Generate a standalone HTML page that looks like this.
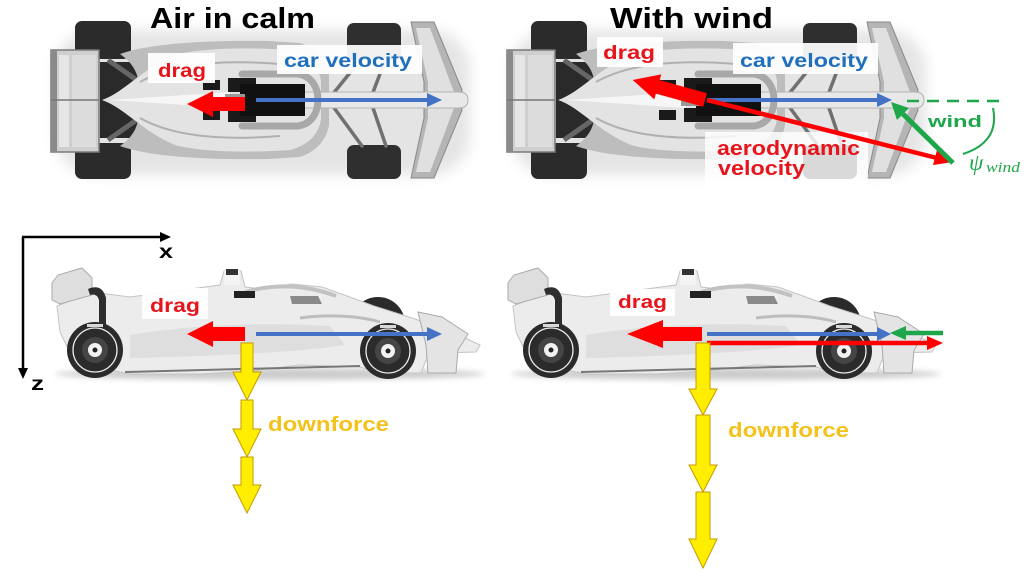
<!DOCTYPE html>
<html><head><meta charset="utf-8"><style>
html,body{margin:0;padding:0;background:#fff;}
svg{display:block}
</style></head><body>
<svg width="1024" height="572" viewBox="0 0 1024 572" xmlns="http://www.w3.org/2000/svg" xmlns:xlink="http://www.w3.org/1999/xlink" font-family="'Liberation Sans', sans-serif">
<defs>
<filter id="bl" x="-20%" y="-30%" width="140%" height="160%"><feGaussianBlur stdDeviation="7"/></filter>
<filter id="bl2" x="-20%" y="-200%" width="140%" height="500%"><feGaussianBlur stdDeviation="3"/></filter>

<g id="wheel">
<circle r="28" fill="#2b2b2b"/>
<circle r="22" fill="none" stroke="#e6e6e6" stroke-width="1.3"/>
<circle r="13" fill="#454545"/>
<circle r="7" fill="#f2f2f2"/>
<circle r="2.5" fill="#222"/>
<rect x="-8" y="-26" width="16" height="3" fill="#d8d8d8"/>
</g>

<g id="topcar">
<rect x="55" y="30" width="415" height="145" rx="40" fill="#000" opacity="0.10" filter="url(#bl)"/>
<rect x="75" y="21" width="56" height="38" rx="7" fill="#2b2b2b"/>
<rect x="75" y="143" width="56" height="36" rx="7" fill="#2b2b2b"/>
<rect x="347" y="23" width="54" height="37" rx="7" fill="#2f2f2f"/>
<rect x="347" y="145" width="54" height="34" rx="7" fill="#2f2f2f"/>
<g stroke="#707070" stroke-width="3.5" stroke-linecap="round">
<line x1="362" y1="58" x2="332" y2="95"/>
<line x1="386" y1="58" x2="372" y2="95"/>
<line x1="362" y1="146" x2="332" y2="105"/>
<line x1="386" y1="146" x2="372" y2="105"/>
</g>
<path d="M100 62 L140 62 L148 138 L100 138 Z" fill="#2a2a2a"/>
<g stroke="#666" stroke-width="5">
<line x1="108" y1="60" x2="148" y2="88"/>
<line x1="108" y1="140" x2="148" y2="112"/>
</g>
<path d="M120 54 C150 43 210 40 268 41 L300 43 C318 49 327 62 329 75 L329 125 C327 138 318 151 300 157 L268 159 C210 160 150 157 120 146 C135 135 140 125 140 100 C140 75 135 65 120 54 Z" fill="#bdbdbd"/>
<path d="M102 100 C125 92 140 70 175 55 C200 48 250 47 290 50 C310 55 320 68 321 82 L321 118 C320 132 310 145 290 150 C250 153 200 152 175 145 C140 130 125 108 102 100 Z" fill="#e3e3e3"/>
<path d="M140 82 C175 62 230 60 280 64" stroke="#b0b0b0" stroke-width="2" fill="none"/>
<path d="M140 118 C175 138 230 140 280 136" stroke="#b0b0b0" stroke-width="2" fill="none"/>
<path d="M110 100 L230 92 L230 108 Z" fill="#f6f6f6"/>
<polygon points="411,22 434,22 462,90 462,110 434,178 411,178 424,118 424,82" fill="#b5b5b5" stroke="#888"/>
<polygon points="416,28 430,28 454,92 454,108 430,172 416,172 428,118 428,82" fill="#e0e0e0"/>
<path d="M300 92 L458 92 C466 92 468 96 468 100 C468 104 466 108 458 108 L300 108 Z" fill="#e8e8e8" stroke="#b5b5b5" stroke-width="1"/>
<rect x="203" y="80" width="17" height="10" fill="#1a1a1a"/>
<rect x="203" y="110" width="17" height="10" fill="#1a1a1a"/>
<rect x="228" y="78" width="28" height="14" fill="#1a1a1a"/>
<rect x="228" y="108" width="28" height="14" fill="#1a1a1a"/>
<rect x="240" y="84" width="65" height="32" fill="#111"/>
<rect x="225" y="94" width="20" height="12" fill="#9a9a9a"/>
<path d="M242 74 L298 74 C312 76 318 88 318 100 C318 112 312 124 298 126 L242 126" stroke="#a8a8a8" stroke-width="7" fill="none" stroke-linecap="round"/>
<rect x="51" y="50" width="48" height="102" fill="#cfcfcf" stroke="#7a7a7a" stroke-width="1.5"/>
<rect x="51" y="50" width="6" height="102" fill="#8a8a8a"/>
<rect x="59" y="55" width="10" height="92" fill="#e6e6e6"/>
<rect x="72" y="55" width="24" height="92" fill="#dcdcdc"/>
<line x1="51" y1="100" x2="99" y2="100" stroke="#777" stroke-width="1.5"/>
</g>

<g id="sidecar">
<ellipse cx="270" cy="374" rx="215" ry="6" fill="#000" opacity="0.2" filter="url(#bl2)"/>
<circle cx="112" cy="322" r="26" fill="#2a2a2a"/>
<circle cx="378" cy="324" r="27" fill="#2a2a2a"/>
<path d="M60 332 L57 306 L92 292 L130 297 L175 291 L220 285 L224 271 L241 271 L245 287 L262 289 L292 284 L322 287 L347 296 L374 306 L412 318 L450 331 L480 345 L476 352 L440 353 L426 360 L421 373 L380 373 L360 367 L300 365 L250 371 L200 374 L130 374 L75 363 Z" fill="#ececec" stroke="#c4c4c4" stroke-width="1"/>
<path d="M130 335 C190 325 260 322 330 326 L345 345 C300 352 220 356 130 358 Z" fill="#dedede"/>
<path d="M300 318 C330 314 360 316 380 322" stroke="#bdbdbd" stroke-width="3" fill="none"/>
<path d="M125 372 L360 366" stroke="#777" stroke-width="2"/>
<path d="M245 292 Q290 279 336 296" stroke="#c2c2c2" stroke-width="4" fill="none"/>
<rect x="234" y="291" width="21" height="7" fill="#222"/>
<path d="M290 296 L318 296 L322 304 L292 304 Z" fill="#8a8a8a"/>
<rect x="224" y="271" width="16" height="14" fill="#f4f4f4"/>
<rect x="226" y="269" width="12" height="6" fill="#333"/>
<polygon points="52,283 58,275 82,268 92,278 92,295 60,304 52,300" fill="#dedede" stroke="#aaa"/>
<path d="M88 289 Q102 283 106 298 L106 338 L99 338 L99 300 Q97 293 90 295 Z" fill="#2e2e2e"/>
<polygon points="418,312 442,317 468,334 458,350 456,373 428,373 426,345" fill="#e4e4e4" stroke="#aaa"/>
<use xlink:href="#wheel" href="#wheel" transform="translate(95,350)"/>
<use xlink:href="#wheel" href="#wheel" transform="translate(388,351)"/>
</g>
</defs>

<rect width="1024" height="572" fill="#fff"/>
<use xlink:href="#topcar" href="#topcar"/>
<use xlink:href="#topcar" href="#topcar" transform="translate(456,0)"/>
<use xlink:href="#sidecar" href="#sidecar"/>
<use xlink:href="#sidecar" href="#sidecar" transform="translate(456,0)"/>

<!-- Titles -->
<text x="150" y="28" font-size="29" font-weight="bold" fill="#000" textLength="165" lengthAdjust="spacingAndGlyphs">Air in calm</text>
<text x="610" y="28" font-size="29" font-weight="bold" fill="#000" textLength="163" lengthAdjust="spacingAndGlyphs">With wind</text>

<!-- Top-left labels -->
<rect x="148" y="53" width="67" height="30" fill="#fff" opacity="0.93"/>
<text x="158" y="77" font-size="19" font-weight="bold" fill="#e8141b" textLength="48" lengthAdjust="spacingAndGlyphs">drag</text>
<rect x="277" y="45" width="145" height="29" fill="#fff" opacity="0.93"/>
<text x="284" y="67" font-size="19" font-weight="bold" fill="#1e6fbe" textLength="128" lengthAdjust="spacingAndGlyphs">car velocity</text>

<!-- Top-left arrows -->
<path d="M187 104 L213 91 L213 97 L245 97 L245 111 L213 111 L213 117 Z" fill="#ff0000"/>
<line x1="256" y1="100" x2="429" y2="100" stroke="#4472c4" stroke-width="4"/>
<polygon points="427,93 442,100 427,107" fill="#4472c4"/>

<!-- Top-right labels -->
<rect x="597" y="37" width="66" height="30" fill="#fff" opacity="0.93"/>
<text x="603" y="59" font-size="19" font-weight="bold" fill="#e8141b" textLength="52" lengthAdjust="spacingAndGlyphs">drag</text>
<rect x="733" y="43" width="145" height="31" fill="#fff" opacity="0.93"/>
<text x="740" y="67" font-size="19" font-weight="bold" fill="#1e6fbe" textLength="128" lengthAdjust="spacingAndGlyphs">car velocity</text>
<rect x="705" y="132" width="163" height="55" fill="#fff" opacity="0.82"/>
<text x="717" y="155" font-size="20" font-weight="bold" fill="#e8141b" textLength="143" lengthAdjust="spacingAndGlyphs">aerodynamic</text>
<text x="718" y="175" font-size="20" font-weight="bold" fill="#e8141b" textLength="87" lengthAdjust="spacingAndGlyphs">velocity</text>

<!-- Top-right arrows -->
<line x1="707" y1="100" x2="879" y2="100" stroke="#4472c4" stroke-width="4"/>
<polygon points="877,93 892,100 877,107" fill="#4472c4"/>
<path d="M630 100 L656 87 L656 93 L705 93 L705 107 L656 107 L656 113 Z" fill="#ff0000" transform="rotate(15.5 705 100)"/>
<line x1="707" y1="100" x2="937" y2="158" stroke="#ff0000" stroke-width="4.5"/>
<polygon points="933,165 953,162 937,150" fill="#ff0000"/>
<line x1="907" y1="101" x2="1000" y2="101" stroke="#1ea64a" stroke-width="2.5" stroke-dasharray="12 8"/>
<line x1="953" y1="163" x2="903" y2="114" stroke="#1ea64a" stroke-width="5"/>
<polygon points="909,108 891,102 897,120" fill="#1ea64a"/>
<path d="M993 108 Q1000 142 963 154" stroke="#1ea64a" stroke-width="2" fill="none"/>
<text x="928" y="127" font-size="17" font-weight="bold" fill="#1ea64a" textLength="54" lengthAdjust="spacingAndGlyphs">wind</text>
<text x="969" y="170" font-size="23" font-style="italic" font-family="'Liberation Serif', serif" fill="#1ea64a">ψ</text>
<text x="986" y="172" font-size="15" font-style="italic" font-family="'Liberation Serif', serif" fill="#1ea64a" textLength="34" lengthAdjust="spacingAndGlyphs">wind</text>

<!-- Axes -->
<line x1="23" y1="237" x2="23" y2="370" stroke="#000" stroke-width="2.5"/>
<polygon points="18,368 23,379 28,368" fill="#000"/>
<line x1="22" y1="237" x2="162" y2="237" stroke="#000" stroke-width="2.5"/>
<polygon points="160,232 171,237 160,242" fill="#000"/>
<text x="159" y="258" font-size="19" font-weight="bold" fill="#000" textLength="14" lengthAdjust="spacingAndGlyphs">x</text>
<text x="31" y="390" font-size="19" font-weight="bold" fill="#000" textLength="13" lengthAdjust="spacingAndGlyphs">z</text>

<!-- Side-left labels & arrows -->
<rect x="142" y="288" width="66" height="31" fill="#fff" opacity="0.93"/>
<text x="150" y="312" font-size="19" font-weight="bold" fill="#e8141b" textLength="50" lengthAdjust="spacingAndGlyphs">drag</text>
<path d="M187 334 L213 321 L213 327 L245 327 L245 341 L213 341 L213 347 Z" fill="#ff0000"/>
<line x1="256" y1="334" x2="429" y2="334" stroke="#4472c4" stroke-width="4"/>
<polygon points="427,327 442,334 427,341" fill="#4472c4"/>

<!-- Side-right labels & arrows -->
<rect x="610" y="289" width="65" height="27" fill="#fff" opacity="0.93"/>
<text x="618" y="308" font-size="18" font-weight="bold" fill="#e8141b" textLength="49" lengthAdjust="spacingAndGlyphs">drag</text>
<path d="M627 334 L663 320 L663 327 L702 327 L702 341 L663 341 L663 348 Z" fill="#ff0000"/>
<line x1="707" y1="334" x2="879" y2="334" stroke="#4472c4" stroke-width="4"/>
<polygon points="877,327 891,334 877,341" fill="#4472c4"/>
<line x1="943" y1="333" x2="904" y2="333" stroke="#1ea64a" stroke-width="4.5"/>
<polygon points="906,326 890,333 906,340" fill="#1ea64a"/>
<line x1="707" y1="343" x2="929" y2="343" stroke="#ff0000" stroke-width="4.5"/>
<polygon points="927,336 943,343 927,350" fill="#ff0000"/>

<!-- Downforce arrows left -->
<g fill="#ffee00" stroke="#c69a00" stroke-width="1">
<path d="M241 343 L253 343 L253 372 L261 372 L247 400 L233 372 L241 372 Z"/>
<path d="M241 400 L253 400 L253 429 L261 429 L247 457 L233 429 L241 429 Z"/>
<path d="M241 457 L253 457 L253 485 L261 485 L247 513 L233 485 L241 485 Z"/>
</g>
<text x="268" y="431" font-size="20" font-weight="bold" fill="#f4c21a" textLength="121" lengthAdjust="spacingAndGlyphs">downforce</text>

<!-- Downforce arrows right -->
<g fill="#ffee00" stroke="#c69a00" stroke-width="1">
<path d="M696 343 L710 343 L710 389 L717 389 L703 415 L689 389 L696 389 Z"/>
<path d="M696 415 L710 415 L710 465 L717 465 L703 492 L689 465 L696 465 Z"/>
<path d="M696 492 L710 492 L710 539 L717 539 L703 568 L689 539 L696 539 Z"/>
</g>
<text x="728" y="437" font-size="20" font-weight="bold" fill="#f4c21a" textLength="121" lengthAdjust="spacingAndGlyphs">downforce</text>
</svg>
</body></html>
